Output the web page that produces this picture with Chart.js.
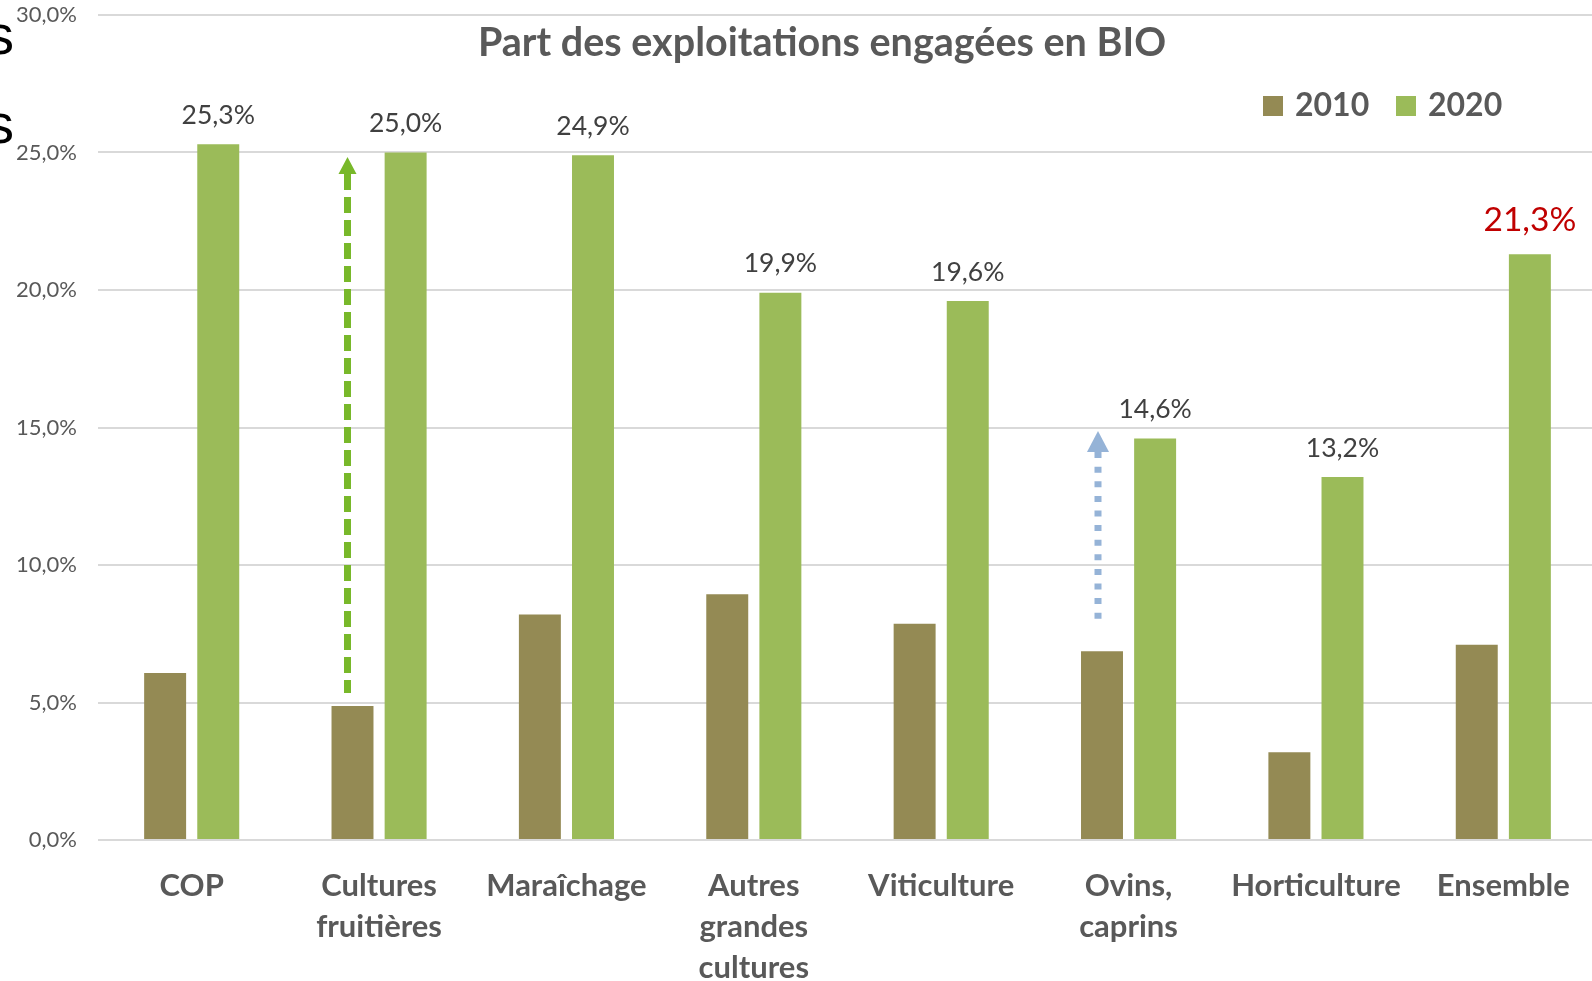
<!DOCTYPE html>
<html lang="fr">
<head>
  <meta charset="UTF-8">
  <title>Part des exploitations engagées en BIO</title>
  <script src="https://cdn.jsdelivr.net/npm/chart.js@4/dist/chart.umd.min.js"></script>
  <style>
    html, body { margin: 0; padding: 0; background: #fff; overflow: hidden; }
    canvas { display: block; }
  </style>
</head>
<body>
<canvas id="myChart" width="1597" height="981"></canvas>

<script>
const categories = ['COP', ['Cultures', 'fruitières'], 'Maraîchage', ['Autres', 'grandes', 'cultures'],
  'Viticulture', ['Ovins,', 'caprins'], 'Horticulture', 'Ensemble'];
const values2010 = [6.07, 4.87, 8.20, 8.94, 7.86, 6.86, 3.19, 7.10];
const values2020 = [25.3, 25.0, 24.9, 19.9, 19.6, 14.6, 13.2, 21.3];
const seriesNames = ['2010', '2020'];
const seriesColors = ['#948A54', '#9BBB59'];

// dashed arrows drawn over "Cultures fruitières" and "Ovins, caprins" (values in %)
const arrowCategories = [1, 5];
const arrowFrom = [5.35, 7.96];
const arrowTo = [24.84, 14.87];

const fmt = v => v.toFixed(1).replace('.', ',') + '%';

const overlay = {
  id: 'overlay',
  afterDatasetsDraw(chart) {
    const ctx = chart.ctx;
    const y = chart.scales.y;

    // value labels on the 2020 bars
    chart.getDatasetMeta(1).data.forEach((bar, i) => {
      const last = i === values2020.length - 1;
      ctx.save();
      ctx.font = last ? '33.5px Lato' : '26.5px Lato';
      ctx.fillStyle = last ? '#C00000' : '#404040';
      ctx.textAlign = 'center';
      ctx.textBaseline = 'middle';
      ctx.fillText(fmt(values2020[i]), bar.x, bar.y - (last ? 34 : 29));
      ctx.restore();
    });

    // arrows
    const styles = [
      {color: '#78B82A', width: 7, dash: [16, 7], headW: 18, headH: 17, dx: -5},
      {color: '#95B3D7', width: 7, dash: [6, 8.6], headW: 22, headH: 21, dx: -4}
    ];
    arrowCategories.forEach((c, k) => {
      const s = styles[k];
      const x = chart.getDatasetMeta(0).data[c].x + s.dx;
      const yTip = y.getPixelForValue(arrowTo[k]);
      const yBot = y.getPixelForValue(arrowFrom[k]);
      ctx.save();
      ctx.strokeStyle = s.color;
      ctx.lineWidth = s.width;
      ctx.setLineDash(s.dash);
      ctx.beginPath();
      ctx.moveTo(x, yTip + s.headH);
      ctx.lineTo(x, yBot);
      ctx.stroke();
      ctx.setLineDash([]);
      ctx.fillStyle = s.color;
      ctx.beginPath();
      ctx.moveTo(x, yTip);
      ctx.lineTo(x + s.headW / 2, yTip + s.headH);
      ctx.lineTo(x - s.headW / 2, yTip + s.headH);
      ctx.closePath();
      ctx.fill();
      ctx.restore();
    });
  },
  afterDraw(chart) {
    const ctx = chart.ctx;
    ctx.save();
    // title
    ctx.font = 'bold 39.5px Lato';
    ctx.fillStyle = '#595959';
    ctx.textAlign = 'center';
    ctx.textBaseline = 'middle';
    ctx.fillText('Part des exploitations engagées en BIO', 822, 43);

    // legend
    ctx.textAlign = 'left';
    ctx.font = 'bold 32px Lato';
    const legendX = [1263, 1396];
    seriesNames.forEach((name, i) => {
      ctx.fillStyle = seriesColors[i];
      ctx.fillRect(legendX[i], 96, 20, 20);
      ctx.fillStyle = '#595959';
      ctx.fillText(name, legendX[i] + 32, 106);
    });

    // cut-off text at the left edge of the picture
    ctx.fillStyle = '#000';
    ctx.font = '56px "Liberation Sans"';
    ctx.textBaseline = 'alphabetic';
    ctx.fillText('s', -14, 54);
    ctx.fillText('s', -14, 143);
    ctx.restore();
  }
};

new Chart(document.getElementById('myChart').getContext('2d'), {
  type: 'bar',
  data: {
    labels: categories,
    datasets: seriesNames.map((name, i) => ({
      label: name,
      data: i === 0 ? values2010 : values2020,
      backgroundColor: seriesColors[i],
      borderWidth: 0,
      categoryPercentage: 0.567,
      barPercentage: 0.79
    }))
  },
  options: {
    responsive: false,
    animation: false,
    layout: { padding: { top: 15, left: 0, right: 0, bottom: 0 } },
    plugins: {
      legend: { display: false },
      title: { display: false },
      tooltip: { enabled: false }
    },
    scales: {
      x: {
        grid: { display: false },
        border: { display: false },
        ticks: {
          color: '#595959',
          padding: 17,
          maxRotation: 0,
          autoSkip: false,
          font: { family: 'Lato', size: 31, weight: 'bold', lineHeight: 1.33 }
        },
        afterFit(scale) { scale.height = 141; }
      },
      y: {
        min: 0,
        max: 30,
        border: { display: false },
        grid: { color: '#D9D9D9', lineWidth: 2, drawTicks: false },
        ticks: {
          stepSize: 5,
          padding: 21,
          color: '#595959',
          font: { family: 'Lato', size: 22 },
          callback: v => fmt(v)
        },
        afterFit(scale) {
          scale.width = 98;
          scale.paddingTop = 12;
          scale.paddingBottom = 12;
        }
      }
    }
  },
  plugins: [overlay]
});
</script>
</body>
</html>
